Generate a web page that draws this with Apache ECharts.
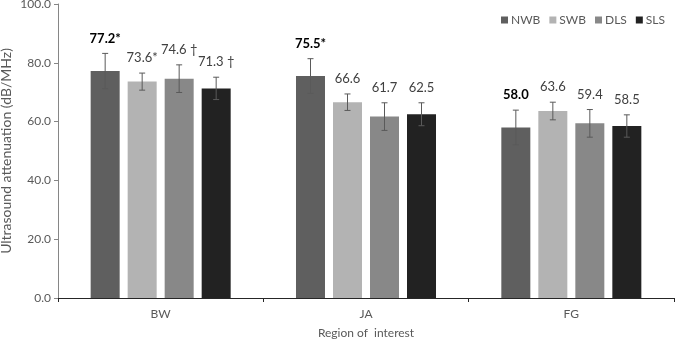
<!DOCTYPE html>
<html>
<head>
<meta charset="utf-8">
<style>
  html, body { margin: 0; padding: 0; background: #fff; }
  #chart { width: 675px; height: 340px; }
</style>
<script src="https://cdn.jsdelivr.net/npm/echarts@6/dist/echarts.min.js"></script>
</head>
<body>
<div id="chart"></div>
<script>
const regions = ['BW', 'JA', 'FG']
const groups = ['NWB', 'SWB', 'DLS', 'SLS']
const colors = ['#5f5f5f', '#b3b3b3', '#888888', '#222222']

// mean values per group, in region order
const nwb = [77.2, 75.5, 58.0]
const swb = [73.6, 66.6, 63.6]
const dls = [74.6, 61.7, 59.4]
const sls = [71.3, 62.5, 58.5]

// error (sd)
const nwbErr = [6.0, 5.9, 5.9]
const swbErr = [2.9, 2.8, 3.0]
const dlsErr = [4.7, 4.7, 4.7]
const slsErr = [3.8, 3.9, 3.8]

// value labels as printed
const nwbLabels = ['77.2*', '75.5*', '58.0']
const swbLabels = ['73.6*', '66.6', '63.6']
const dlsLabels = ['74.6 †', '61.7', '59.4']
const slsLabels = ['71.3 †', '62.5', '58.5']

const yTicks = [0, 20, 40, 60, 80, 100]

const values = [nwb, swb, dls, sls]
const errors = [nwbErr, swbErr, dlsErr, slsErr]
const labels = [nwbLabels, swbLabels, dlsLabels, slsLabels]

const BAR_W = 29
const BAR_GAP = 8
const FONT = 'Lato, "Open Sans", sans-serif'

const chart = echarts.init(document.getElementById('chart'))

const barSeries = groups.map((g, i) => ({
  name: g,
  type: 'bar',
  data: values[i],
  barWidth: BAR_W,
  barGap: (BAR_GAP / BAR_W * 100).toFixed(1) + '%',
  itemStyle: { color: colors[i] },
  z: 2
}))

// error bars + value labels drawn on top of each bar
const errSeries = groups.map((g, i) => ({
  name: g + ' err',
  type: 'custom',
  z: 5,
  data: values[i].map((v, k) => [k, v, errors[i][k]]),
  renderItem: (params, api) => {
    const k = api.value(0)
    const v = api.value(1)
    const e = api.value(2)
    const shift = (i - 1.5) * (BAR_W + BAR_GAP)
    const hi = api.coord([k, v + e])
    const lo = api.coord([k, v - e])
    const x = hi[0] + shift
    const cap = 3
    const style = { stroke: '#5a5a5a', lineWidth: 1 }
    const bold = i === 0
    return {
      type: 'group',
      children: [
        { type: 'line', shape: { x1: x, y1: hi[1], x2: x, y2: lo[1] }, style },
        { type: 'line', shape: { x1: x - cap, y1: hi[1], x2: x + cap, y2: hi[1] }, style },
        { type: 'line', shape: { x1: x - cap, y1: lo[1], x2: x + cap, y2: lo[1] }, style },
        {
          type: 'text',
          style: {
            text: labels[i][k],
            x: x,
            y: hi[1] - 15,
            align: 'center',
            verticalAlign: 'middle',
            fill: bold ? '#000' : '#404040',
            font: (bold ? 'bold ' : '') + '13px ' + FONT
          }
        }
      ]
    }
  }
}))

const option = {
  animation: false,
  textStyle: { fontFamily: FONT },
  grid: { left: 58, right: 1, top: 4, bottom: 42, outerBoundsMode: 'none', containLabel: false },
  legend: {
    data: groups,
    top: 9,
    right: 5,
    icon: 'rect',
    itemWidth: 7,
    itemHeight: 7,
    itemGap: 9,
    textStyle: { color: '#595959', fontSize: 12, padding: [0, 0, 0, -2] }
  },
  xAxis: {
    type: 'category',
    data: regions,
    name: 'Region of  interest',
    nameLocation: 'middle',
    nameGap: 29,
    nameTextStyle: { color: '#595959', fontSize: 12 },
    axisLine: { lineStyle: { color: '#262626', width: 1 } },
    axisTick: { show: true, length: 4, lineStyle: { color: '#262626' } },
    axisLabel: { color: '#595959', fontSize: 12, margin: 10 }
  },
  yAxis: {
    type: 'value',
    min: yTicks[0],
    max: yTicks[yTicks.length - 1],
    interval: yTicks[1] - yTicks[0],
    name: 'Ultrasound attenuation (dB/MHz)',
    nameLocation: 'middle',
    nameGap: 45,
    nameMoveOverlap: false,
    nameTextStyle: { color: '#595959', fontSize: 14 },
    splitLine: { show: false },
    axisLine: { show: true, lineStyle: { color: '#868686' } },
    axisTick: { show: true, length: 4, lineStyle: { color: '#868686' } },
    axisLabel: { color: '#595959', fontSize: 12, margin: 7, formatter: v => v.toFixed(1) }
  },
  series: [...barSeries, ...errSeries]
}

chart.setOption(option)
</script>
</body>
</html>
